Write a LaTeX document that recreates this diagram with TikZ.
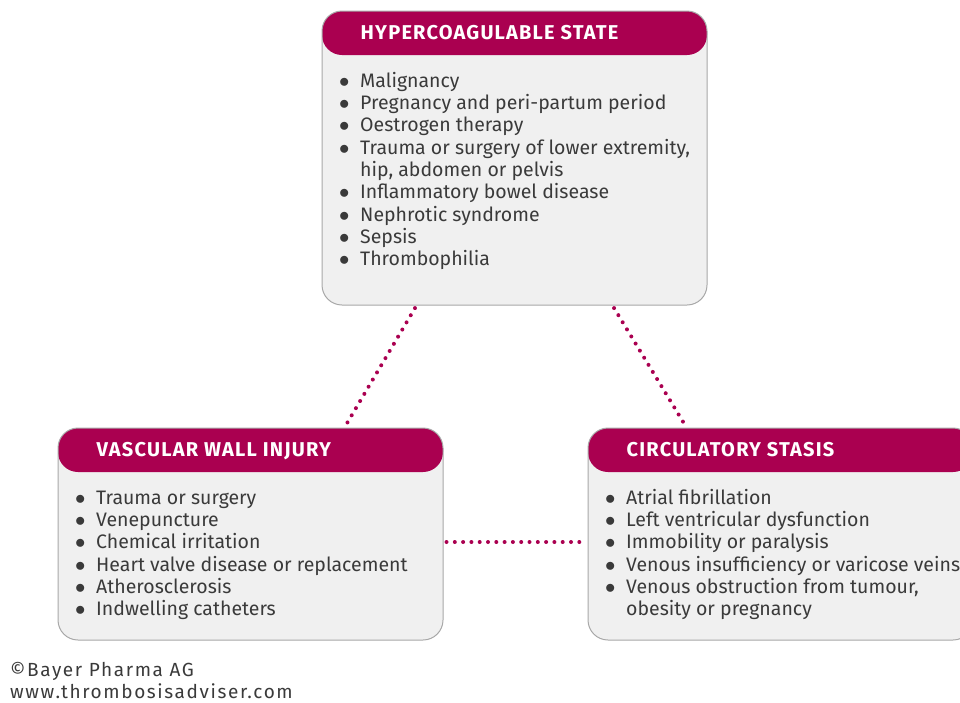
\documentclass[tikz,border=0pt]{standalone}
\usepackage{fontspec}
\setmainfont{Fira Sans}
\newfontfamily\headfont[LetterSpace=6]{Fira Sans}
\newfontfamily\creditfont[LetterSpace=8.5]{Fira Sans}
\usetikzlibrary{positioning}

\definecolor{accent}{HTML}{AA0050}
\definecolor{boxfill}{HTML}{F0F0F0}
\definecolor{boxline}{HTML}{A8A8A8}
\definecolor{ink}{HTML}{3A3A3A}

\tikzset{
  riskbox/.style={rectangle, rounded corners=20pt, draw=boxline, line width=1pt,
    fill=boxfill, minimum width=385pt, minimum height=212pt,
    path picture={\fill [accent] (path picture bounding box.north west)
      rectangle ([yshift=-44pt]path picture bounding box.north east);}},
  title/.style={anchor=base west, inner sep=0pt, text=white,
    font=\headfont\fontsize{20}{22.3}\selectfont\bfseries},
  items/.style={anchor=north west, inner sep=0pt, text=ink,
    font=\fontsize{19.5}{22.3}\selectfont},
  link/.style={draw=accent, line width=4pt, line cap=round,
    dash pattern=on 0pt off 8.3pt, shorten >=3pt, shorten <=3pt}
}

\newcommand{\itemlist}[1]{\begin{tabular}{@{}p{21pt}@{}l@{}}#1\end{tabular}}
\newcommand{\pt}{$\bullet$}

\begin{document}
\begin{tikzpicture}[node distance=376pt, on grid]
\useasboundingbox (0,0) rectangle (960pt,-702pt);

\node [riskbox, minimum height=294pt] (hyper) at (514.5pt,-158pt) {};
\node [riskbox] (vascular) [below left=376pt and 264pt of hyper] {};
\node [riskbox] (stasis) [below right=376pt and 266pt of hyper] {};

% headings
\node [title] (hyper title) at ([shift={(39pt,-29pt)}]hyper.north west) {HYPERCOAGULABLE STATE};
\node [title] (vascular title) at ([shift={(39pt,-29pt)}]vascular.north west) {VASCULAR WALL INJURY};
\node [title] (stasis title) at ([shift={(39pt,-29pt)}]stasis.north west) {CIRCULATORY STASIS};

% bullet lists
\node [items] (hyper list) at ([shift={(17.5pt,-61pt)}]hyper.north west) {\itemlist{
  \pt & Malignancy\\
  \pt & Pregnancy and peri-partum period\\
  \pt & Oestrogen therapy\\
  \pt & Trauma or surgery of lower extremity,\\
      & hip, abdomen or pelvis\\
  \pt & Inflammatory bowel disease\\
  \pt & Nephrotic syndrome\\
  \pt & Sepsis\\
  \pt & Thrombophilia}};
\node [items] (vascular list) at ([shift={(17.5pt,-61pt)}]vascular.north west) {\itemlist{
  \pt & Trauma or surgery\\
  \pt & Venepuncture\\
  \pt & Chemical irritation\\
  \pt & Heart valve disease or replacement\\
  \pt & Atherosclerosis\\
  \pt & Indwelling catheters}};
\node [items] (stasis list) at ([shift={(17.5pt,-61pt)}]stasis.north west) {\itemlist{
  \pt & Atrial fibrillation\\
  \pt & Left ventricular dysfunction\\
  \pt & Immobility or paralysis\\
  \pt & Venous insufficiency or varicose veins\\
  \pt & Venous obstruction from tumour,\\
      & obesity or pregnancy}};

% dotted links between the three boxes
\path [link]
  ([xshift=-98pt]hyper.south) edge ([xshift=94pt]vascular.north)
  ([xshift=98pt]hyper.south) edge ([xshift=-94pt]stasis.north)
  ([yshift=-8pt]vascular.east) edge ([yshift=-8pt]stasis.west);

\node [items, font=\creditfont\fontsize{19}{21}\selectfont] (credit) at (10pt,-662pt)
  {\begin{tabular}{@{}l@{}}\textcopyright Bayer Pharma AG\\ www.thrombosisadviser.com\end{tabular}};
\end{tikzpicture}
\end{document}
